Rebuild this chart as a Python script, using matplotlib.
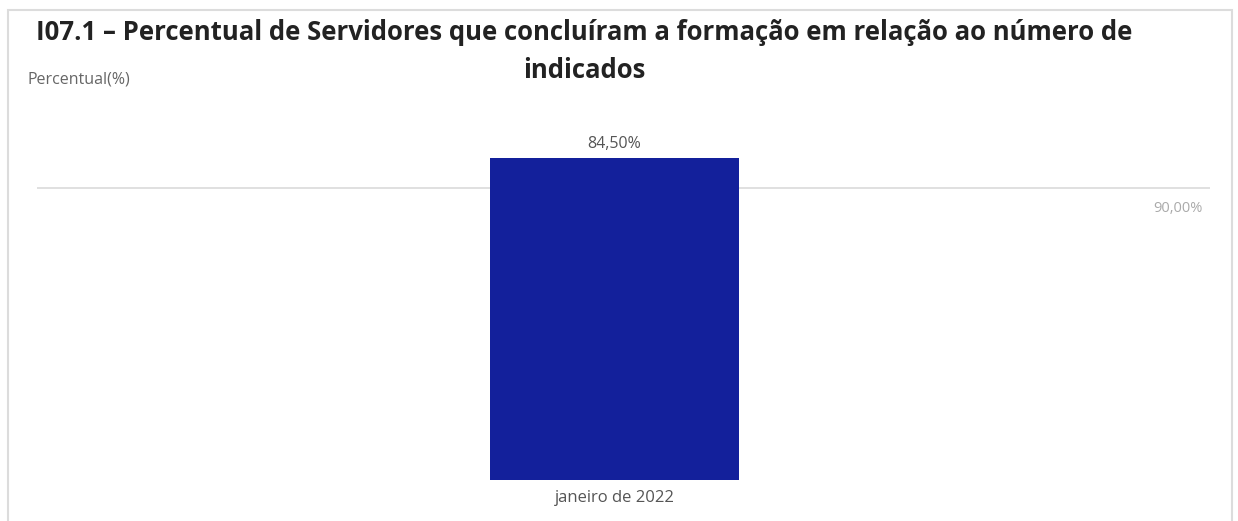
import matplotlib.pyplot as plt
from matplotlib.patches import Rectangle

# data
categories = ['janeiro de 2022']
valores = [84.50]
meta = 90.00
titulo = ['I07.1 – Percentual de Servidores que concluíram a formação em relação ao número de',
          'indicados']

plt.rcParams['font.family'] = ['Open Sans', 'DejaVu Sans']

fig = plt.figure(figsize=(12.38, 5.21), dpi=100)
W, H = 1238, 521

# card frame
fig.patches.append(Rectangle((8 / W, -0.05), 1224 / W, 1.05 - 10 / H, transform=fig.transFigure,
                             fill=False, edgecolor='#dcdcdc', linewidth=1.5))

ax = fig.add_axes([37 / W, 41 / H, 1173 / W, 370 / H])
ax.set_xlim(-0.4923, 0.5077)
ax.set_ylim(0, 84.5 * 370 / 322)
bars = ax.bar(range(len(categories)), valores, width=0.212, color='#13209b')
for b, v in zip(bars, valores):
    ax.text(b.get_x() + b.get_width() / 2, v + 1.6, f'{v:.2f}%'.replace('.', ','),
            ha='center', va='bottom', fontsize=11.5, color='#555555')
ax.set_xticks(range(len(categories)))
ax.set_xticklabels(categories, fontsize=12, color='#555555')
ax.tick_params(axis='x', length=0, pad=7)
ax.set_yticks([])
for s in ax.spines.values():
    s.set_visible(False)

# target line on its own scale
ax2 = ax.twinx()
ax2.set_ylim(0, 90 * 370 / 292)
ax2.axhline(meta, color='#dddddd', linewidth=1.3, zorder=0)
ax2.text(0.5077 - 0.006, meta - 4.0, f'{meta:.2f}%'.replace('.', ','), ha='right', va='top',
         fontsize=10.5, color='#aaaaaa')
ax2.set_yticks([])
for s in ax2.spines.values():
    s.set_visible(False)
ax.set_zorder(ax2.get_zorder() + 1)
ax.patch.set_visible(False)

for linha, yc in zip(titulo, [33, 70]):
    fig.text(584 / W, 1 - yc / H, linha, ha='center', va='center', fontsize=18.5,
             fontweight='bold', color='#222222')
fig.text(27 / W, 1 - 80 / H, 'Percentual(%)', ha='left', va='center', fontsize=11.5, color='#666666')

fig.savefig('out.png', dpi=100, facecolor='white')
